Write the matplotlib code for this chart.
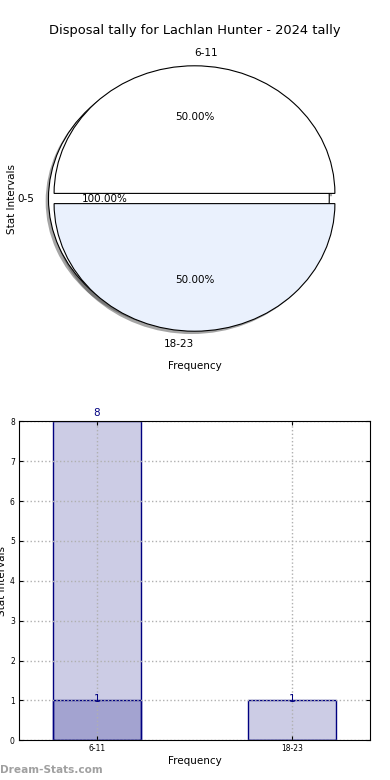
import numpy as np
import matplotlib
matplotlib.use("Agg")
import matplotlib.pyplot as plt

# ==========================================================
# Data
# ==========================================================

TITLE = "Disposal tally for Lachlan Hunter - 2024 tally"

# the pie is really two pies stacked: 0-5 on its own behind, then the rest
pie_back_labels = ["0-5"]
pie_back_values = [1]
pie_back_colors = ["white"]

pie_front_labels = ["6-11", "18-23"]
pie_front_values = [1, 1]
pie_front_colors = ["white", "#eaf1fd"]

bar_labels = ["6-11", "18-23"]
bar_series_a = [8, 0]
bar_series_b = [1, 1]

BAR_FILL = (0, 0, 0.5, 0.2)
BAR_EDGE = "navy"
EXPLODE = 0.04

fig = plt.figure(figsize=(3.9, 7.8), dpi=100)

# ==========================================================
# Pie
# ==========================================================

ax_pie = fig.add_axes([0.0487, 0.541, 0.9, 0.409])

# shadows first, as their own layer underneath every wedge
for values in [pie_back_values, pie_front_values]:
    ax_pie.pie(
        values,
        colors=[(0.3, 0.3, 0.3)] * len(values),
        explode=[EXPLODE] * len(values),
        center=(-0.02, -0.022),
        wedgeprops={"linewidth": 0, "alpha": 0.5, "zorder": 0.3},
    )

ax_pie.pie(
    pie_back_values,
    labels=pie_back_labels,
    colors=pie_back_colors,
    explode=[EXPLODE] * len(pie_back_values),
    autopct="%.2f%%",
    wedgeprops={"edgecolor": "black", "linewidth": 0.8, "zorder": 0.5},
    textprops={"fontsize": 7.5, "zorder": 0.6},
)

_, front_texts, _ = ax_pie.pie(
    pie_front_values,
    labels=pie_front_labels,
    colors=pie_front_colors,
    explode=[EXPLODE] * len(pie_front_values),
    autopct="%.2f%%",
    wedgeprops={"edgecolor": "black", "linewidth": 0.8},
    textprops={"fontsize": 7.5},
)

# old-style label alignment: top label starts at centre, bottom one ends there
front_texts[0].set_ha("left")
front_texts[1].set_ha("right")

ax_pie.set_aspect("auto")
ax_pie.set_xlim(-1.25, 1.25)
ax_pie.set_ylim(-1.25, 1.25)
ax_pie.set_title(TITLE, fontsize=9.4, pad=3.8)
ax_pie.set_xlabel("Frequency", fontsize=7.5, labelpad=2)
ax_pie.set_ylabel("Stat Intervals", fontsize=7.5, labelpad=1.5)

# ==========================================================
# Bars
# ==========================================================

ax_bar = fig.add_axes([0.0487, 0.0509, 0.9, 0.409])

x = np.arange(len(bar_labels))

for series in [bar_series_a, bar_series_b]:
    ax_bar.bar(x, series, width=0.45, color=BAR_FILL,
               edgecolor=BAR_EDGE, linewidth=1)
    for xi, h in zip(x, series):
        if h > 0:
            ax_bar.text(xi, h * 1.025, str(h), ha="center", va="center",
                        color="navy", fontsize=7.5, clip_on=False)

ax_bar.set_xlim(-0.4, 1.4)
ax_bar.set_ylim(0, max(bar_series_a + bar_series_b))
ax_bar.set_xticks(x)
ax_bar.set_xticklabels(bar_labels)
ax_bar.set_yticks(range(0, 9))
ax_bar.tick_params(direction="in", length=3, labelsize=5.5,
                   top=True, right=True, pad=3)
ax_bar.grid(True, linestyle=":", color="#b0b0b0", linewidth=1)
ax_bar.set_axisbelow(False)
for spine in ax_bar.spines.values():
    spine.set_zorder(5)
ax_bar.set_xlabel("Frequency", fontsize=7.5, labelpad=2)
ax_bar.set_ylabel("Stat Intervals", fontsize=7.5, labelpad=2)

fig.text(0.0, 0.0128, "Dream-Stats.com", fontsize=7.6, fontweight="bold",
         color="#a0a0a0", ha="left", va="center")

fig.savefig("out.png", dpi=100)
